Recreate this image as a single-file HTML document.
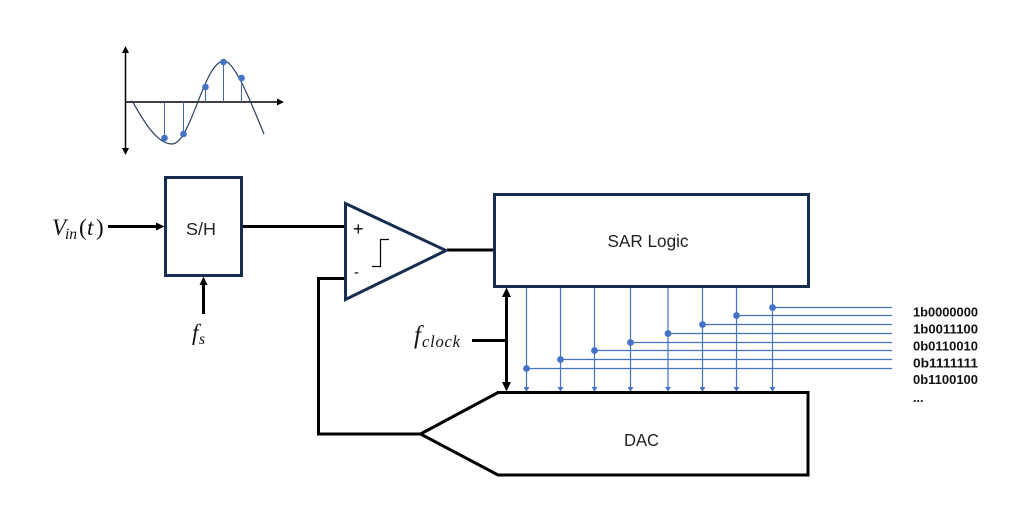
<!DOCTYPE html>
<html>
<head>
<meta charset="utf-8">
<style>
html,body{margin:0;padding:0;background:#fff;width:1018px;height:531px;overflow:hidden}
svg{display:block}
.sans{font-family:"Liberation Sans",sans-serif}
.math{font-family:"Liberation Serif",serif;font-style:italic;fill:#111}
.code{font-family:"Liberation Sans",sans-serif;font-weight:bold;font-size:12.5px;fill:#111}
</style>
</head>
<body>
<svg width="1018" height="531" viewBox="0 0 1018 531" xmlns="http://www.w3.org/2000/svg">
<rect width="1018" height="531" fill="#fff"/>

<!-- Waveform inset -->
<g stroke="#000" stroke-width="1.5" fill="none">
  <line x1="125.5" y1="50" x2="125.5" y2="151"/>
  <line x1="125" y1="102" x2="280" y2="102"/>
</g>
<g fill="#000">
  <polygon points="125.5,46 122,53 129,53"/>
  <polygon points="125.5,155 122,148 129,148"/>
  <polygon points="284,102 277,98.5 277,105.5"/>
</g>
<path d="M132,100.7 C142,118 156,144 172,144 C191,144 204,61 224,61 C235,61 252,105 264,134" fill="none" stroke="#2b3f60" stroke-width="1.2"/>
<g stroke="#3f68ad" stroke-width="1">
  <line x1="164.5" y1="102" x2="164.5" y2="138"/>
  <line x1="183.5" y1="102" x2="183.5" y2="134"/>
  <line x1="205.5" y1="102" x2="205.5" y2="87"/>
  <line x1="223.5" y1="102" x2="223.5" y2="62"/>
  <line x1="241.5" y1="102" x2="241.5" y2="78"/>
</g>
<g fill="#4472c4">
  <circle cx="164.5" cy="138" r="3.3"/>
  <circle cx="183.5" cy="134" r="3.3"/>
  <circle cx="205.5" cy="87" r="3.3"/>
  <circle cx="223.5" cy="62" r="3.3"/>
  <circle cx="241.5" cy="78" r="3.3"/>
</g>

<!-- Blue bus lines -->
<g stroke="#4472c4" stroke-width="1.2" fill="none">
  <line x1="526.5" y1="287" x2="526.5" y2="391"/>
  <line x1="560.5" y1="287" x2="560.5" y2="391"/>
  <line x1="594.5" y1="287" x2="594.5" y2="391"/>
  <line x1="630.5" y1="287" x2="630.5" y2="391"/>
  <line x1="668" y1="287" x2="668" y2="391"/>
  <line x1="702.5" y1="287" x2="702.5" y2="391"/>
  <line x1="736.5" y1="287" x2="736.5" y2="391"/>
  <line x1="772.5" y1="287" x2="772.5" y2="391"/>
  <line x1="526.5" y1="368.5" x2="892" y2="368.5"/>
  <line x1="560.5" y1="359.5" x2="892" y2="359.5"/>
  <line x1="594.5" y1="350.5" x2="892" y2="350.5"/>
  <line x1="630.5" y1="342.5" x2="892" y2="342.5"/>
  <line x1="668" y1="333.5" x2="892" y2="333.5"/>
  <line x1="702.5" y1="324.5" x2="892" y2="324.5"/>
  <line x1="736.5" y1="315.5" x2="892" y2="315.5"/>
  <line x1="772.5" y1="307.5" x2="892" y2="307.5"/>
</g>
<g fill="#4472c4">
  <circle cx="526.5" cy="368.5" r="3.4"/>
  <circle cx="560.5" cy="359.5" r="3.4"/>
  <circle cx="594.5" cy="350.5" r="3.4"/>
  <circle cx="630.5" cy="342.5" r="3.4"/>
  <circle cx="668" cy="333.5" r="3.4"/>
  <circle cx="702.5" cy="324.5" r="3.4"/>
  <circle cx="736.5" cy="315.5" r="3.4"/>
  <circle cx="772.5" cy="307.5" r="3.4"/>
  <polygon points="523.5,387 529.5,387 526.5,391.5"/>
  <polygon points="557.5,387 563.5,387 560.5,391.5"/>
  <polygon points="591.5,387 597.5,387 594.5,391.5"/>
  <polygon points="627.5,387 633.5,387 630.5,391.5"/>
  <polygon points="665,387 671,387 668,391.5"/>
  <polygon points="699.5,387 705.5,387 702.5,391.5"/>
  <polygon points="733.5,387 739.5,387 736.5,391.5"/>
  <polygon points="769.5,387 775.5,387 772.5,391.5"/>
</g>

<!-- Black connectors -->
<g stroke="#000" stroke-width="3" fill="none">
  <line x1="108" y1="226.5" x2="158" y2="226.5"/>
  <line x1="203.5" y1="314" x2="203.5" y2="282"/>
  <line x1="242" y1="226.5" x2="345" y2="226.5"/>
  <line x1="447" y1="250" x2="494" y2="250"/>
  <polyline points="345,278.5 318.5,278.5 318.5,434 420,434"/>
  <line x1="506.5" y1="294" x2="506.5" y2="385"/>
  <line x1="472" y1="340.5" x2="506.5" y2="340.5"/>
</g>
<g fill="#000">
  <polygon points="164.5,226.5 156,222.5 156,230.5"/>
  <polygon points="203.5,276.5 199.5,285 207.5,285"/>
  <polygon points="506.5,287.5 502,297 511,297"/>
  <polygon points="506.5,391.5 502,382 511,382"/>
</g>

<!-- Blocks -->
<rect x="165.5" y="177.5" width="76" height="98" fill="#fff" stroke="#172c51" stroke-width="3"/>
<rect x="494.5" y="194.5" width="314" height="92" fill="none" stroke="#172c51" stroke-width="3"/>
<polygon points="345.5,203.5 345.5,299.5 446,250.5" fill="#fff" stroke="#172c51" stroke-width="3"/>
<polygon points="420.5,434 498,392.5 808,392.5 808,475 498,475" fill="none" stroke="#000" stroke-width="3"/>

<!-- Comparator symbols -->
<polyline points="372,266.5 380.5,266.5 380.5,239.5 389,239.5" fill="none" stroke="#000" stroke-width="1.2"/>
<text x="353" y="235" class="sans" font-size="18" fill="#000">+</text>
<text x="354" y="277" class="sans" font-size="15" fill="#000">-</text>

<!-- Block labels -->
<text x="186" y="235" class="sans" font-size="17.5" fill="#222" textLength="30" lengthAdjust="spacingAndGlyphs">S/H</text>
<text x="607.5" y="247" class="sans" font-size="17.5" fill="#222" textLength="81" lengthAdjust="spacingAndGlyphs">SAR Logic</text>
<text x="624" y="446" class="sans" font-size="17.5" fill="#222" textLength="35" lengthAdjust="spacingAndGlyphs">DAC</text>

<!-- Math labels -->
<text x="52" y="235" class="math" font-size="23">V</text>
<text x="65" y="239" class="math" font-size="15.5">in</text>
<text x="79" y="235" class="math" font-size="23" style="font-style:normal">(</text>
<text x="87" y="235" class="math" font-size="23">t</text>
<text x="96" y="235" class="math" font-size="23" style="font-style:normal">)</text>
<text x="192" y="340" class="math" font-size="23">f</text>
<text x="199" y="344" class="math" font-size="15.5">s</text>
<text x="414" y="343" class="math" font-size="25">f</text>
<text x="422" y="347" class="math" font-size="16.5" textLength="38" lengthAdjust="spacing">clock</text>

<!-- Code labels -->
<text x="913" y="316.5" class="code" textLength="65" lengthAdjust="spacingAndGlyphs">1b0000000</text>
<text x="913" y="333.5" class="code" textLength="65" lengthAdjust="spacingAndGlyphs">1b0011100</text>
<text x="913" y="350.5" class="code" textLength="65" lengthAdjust="spacingAndGlyphs">0b0110010</text>
<text x="913" y="367.5" class="code" textLength="65" lengthAdjust="spacingAndGlyphs">0b1111111</text>
<text x="913" y="384" class="code" textLength="65" lengthAdjust="spacingAndGlyphs">0b1100100</text>
<text x="913" y="402" class="code">...</text>
</svg>
</body>
</html>
